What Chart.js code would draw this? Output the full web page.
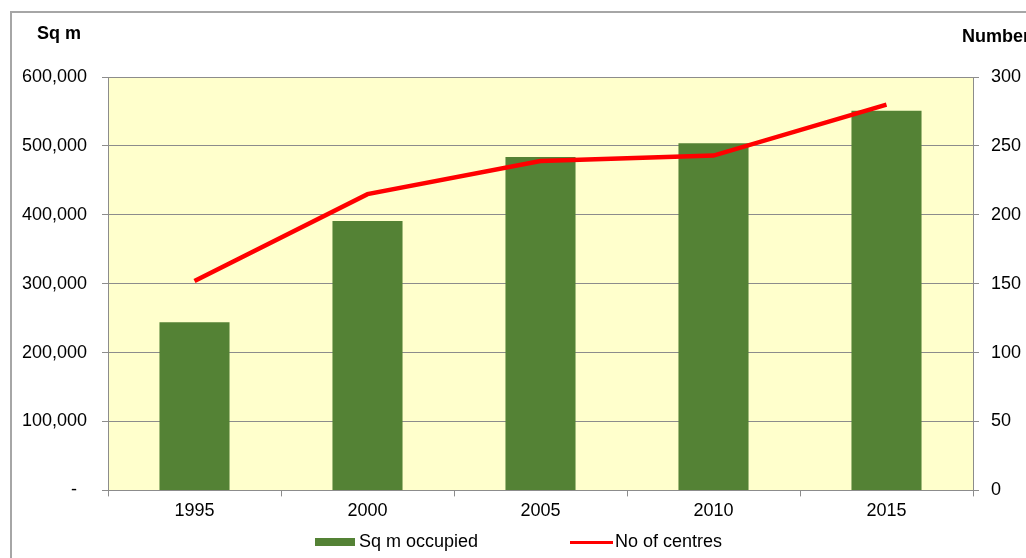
<!DOCTYPE html>
<html>
<head>
<meta charset="utf-8">
<script src="https://cdn.jsdelivr.net/npm/chart.js@4.4.0/dist/chart.umd.min.js"></script>
<style>
  body { margin: 0; background: #fff; font-family: "Liberation Sans", Arial, sans-serif; }
  #wrap { position: relative; width: 1026px; height: 558px; overflow: hidden; }
  #frame { position: absolute; left: 10px; top: 11px; width: 1100px; height: 600px;
           border-left: 2px solid #a6a6a6; border-top: 2px solid #a6a6a6; }
  canvas { position: absolute; left: 0; top: 0; }
  .axisTitle { position: absolute; font-weight: bold; font-size: 18px; color: #000; white-space: nowrap; }
  #legend { position: absolute; top: 530px; left: 0; width: 1026px; font-size: 18px; color: #000; }
  .item { position: absolute; top: 0; white-space: nowrap; line-height: 22px; }
  .swatch { display: inline-block; vertical-align: middle; margin-right: 4px; }
</style>
</head>
<body>
<div id="wrap">
  <div id="frame"></div>
  <canvas id="centresChart" width="1026" height="558"></canvas>
  <div class="axisTitle" style="left:37px; top:23px;">Sq m</div>
  <div class="axisTitle" style="left:962px; top:26px;">Number</div>
  <div id="legend">
    <div class="item" style="left:315px;"><span class="swatch" style="width:40px;height:8px;background:#548235;"></span>Sq m occupied</div>
    <div class="item" style="left:570px;"><span class="swatch" style="width:43px;height:3px;background:#ff0000;margin-right:2px;"></span>No of centres</div>
  </div>
</div>
<script>
let years = ['1995', '2000', '2005', '2010', '2015'];
let sqmOccupied = [244000, 391000, 484000, 504000, 551000];
let noOfCentres = [152, 215, 239, 243, 280];

let gridGrey = '#8c8c8c';

let plotBackground = {
    id: 'plotBackground',
    beforeDraw(chart) {
        let ctx = chart.ctx;
        let area = chart.chartArea;
        ctx.save();
        ctx.fillStyle = '#ffffcc';
        ctx.fillRect(area.left, area.top, area.right - area.left, area.bottom - area.top);
        ctx.restore();
    }
};

function formatSqm(value) {
    if (value === 0) {
        return '-  ';
    }
    return value.toLocaleString('en-US');
}

let canvas = document.getElementById('centresChart').getContext('2d');
let centresChart = new Chart(canvas, {
    type: 'bar',
    data: {
        labels: years,
        datasets: [{
            type: 'line',
            label: 'No of centres',
            data: noOfCentres,
            yAxisID: 'y1',
            borderColor: '#ff0000',
            borderWidth: 4.5,
            pointRadius: 0,
            tension: 0,
            order: 0
        }, {
            type: 'bar',
            label: 'Sq m occupied',
            data: sqmOccupied,
            yAxisID: 'y',
            backgroundColor: '#548235',
            categoryPercentage: 1,
            barPercentage: 0.405,
            order: 1
        }]
    },
    options: {
        responsive: false,
        animation: false,
        layout: { padding: { top: 77, left: 0, right: 0, bottom: 32 } },
        plugins: {
            legend: { display: false },
            tooltip: { enabled: false }
        },
        font: { family: '"Liberation Sans", Arial, sans-serif', size: 18 },
        scales: {
            x: {
                offset: true,
                grid: { offset: true, drawOnChartArea: false, drawTicks: true, tickLength: 6, color: gridGrey },
                border: { color: gridGrey },
                ticks: { color: '#000', padding: 4, font: { family: '"Liberation Sans", Arial, sans-serif', size: 18 } }
            },
            y: {
                position: 'left',
                min: 0,
                max: 600000,
                afterFit: scale => { scale.width = 108; },
                grid: { color: gridGrey, tickLength: 6 },
                border: { color: gridGrey },
                ticks: {
                    stepSize: 100000,
                    padding: 15,
                    color: '#000',
                    font: { family: '"Liberation Sans", Arial, sans-serif', size: 18 },
                    callback: formatSqm
                }
            },
            y1: {
                position: 'right',
                min: 0,
                max: 300,
                afterFit: scale => { scale.width = 53; },
                grid: { drawOnChartArea: false, color: gridGrey, tickLength: 6 },
                border: { color: gridGrey },
                ticks: {
                    stepSize: 50,
                    padding: 12,
                    color: '#000',
                    font: { family: '"Liberation Sans", Arial, sans-serif', size: 18 }
                }
            }
        }
    },
    plugins: [plotBackground]
});
</script>
</body>
</html>
